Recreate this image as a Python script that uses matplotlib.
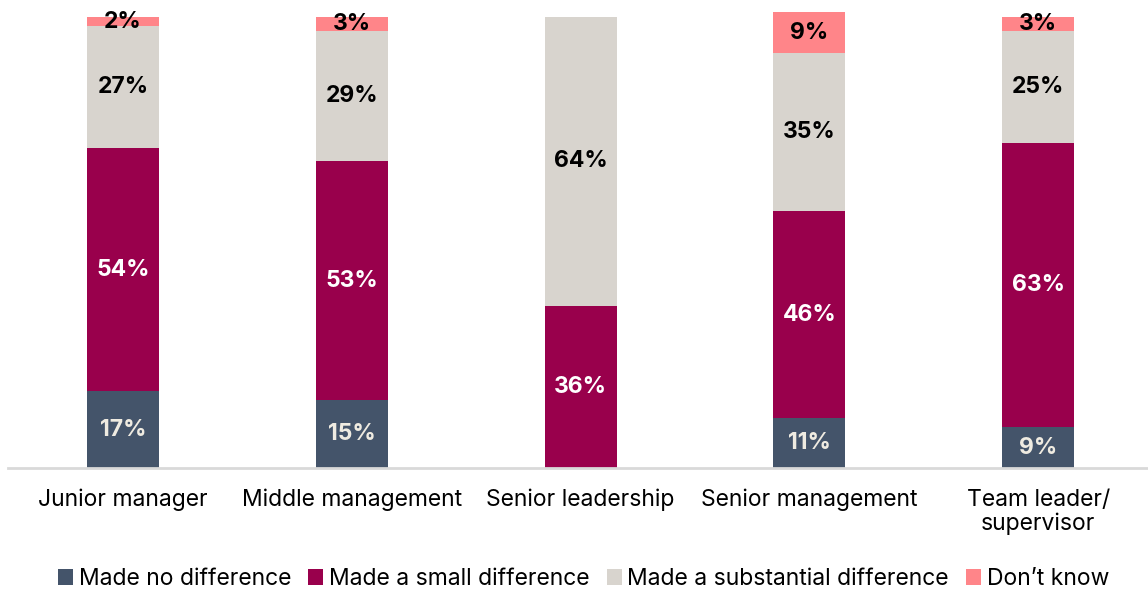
import matplotlib.pyplot as plt
import numpy as np

plt.rcParams['font.family'] = ['Inter', 'DejaVu Sans']

# Data
roles = ['Junior manager', 'Middle management', 'Senior leadership',
         'Senior management', 'Team leader/\nsupervisor']
no_diff = [17, 15, 0, 11, 9]
small_diff = [54, 53, 36, 46, 63]
substantial_diff = [27, 29, 64, 35, 25]
dont_know = [2, 3, 0, 9, 3]

series = [
    ('Made no difference', no_diff, '#44546a', '#efebe1'),
    ('Made a small difference', small_diff, '#99004c', 'white'),
    ('Made a substantial difference', substantial_diff, '#d8d4ce', 'black'),
    ("Don\u2019t know", dont_know, '#ff8589', 'black'),
]

fig = plt.figure(figsize=(11.48, 5.9), dpi=100)
ax = fig.add_axes([0.007, 0.2068, 0.993, 0.7644])

x = np.arange(len(roles))
bottom = np.zeros(len(roles))
for name, vals, color, txt in series:
    vals = np.array(vals, dtype=float)
    ax.bar(x, vals, 0.315, bottom=bottom, color=color, label=name, clip_on=False)
    for xi, b, v in zip(x, bottom, vals):
        if v > 0:
            ax.text(xi, b + v / 2, f'{int(v)}%', ha='center', va='center',
                    fontsize=16.5, fontweight='bold', color=txt)
    bottom += vals

ax.set_xlim(-0.503, 4.48)
ax.set_ylim(0, 100)
ax.set_yticks([])
ax.set_xticks(x)
ax.set_xticklabels(roles, fontsize=16.5, linespacing=1.1)
ax.tick_params(axis='x', length=0, pad=15)
for s in ['top', 'right', 'left']:
    ax.spines[s].set_visible(False)
ax.spines['bottom'].set_color('#d9d9d9')
ax.spines['bottom'].set_linewidth(2)

ax.legend(loc='center', bbox_to_anchor=(0.505, -0.246), ncol=4, frameon=False,
          fontsize=16.5, handlelength=0.65, handleheight=0.65, handletextpad=0.25,
          columnspacing=0.75)

fig.savefig('out.png', dpi=100)
